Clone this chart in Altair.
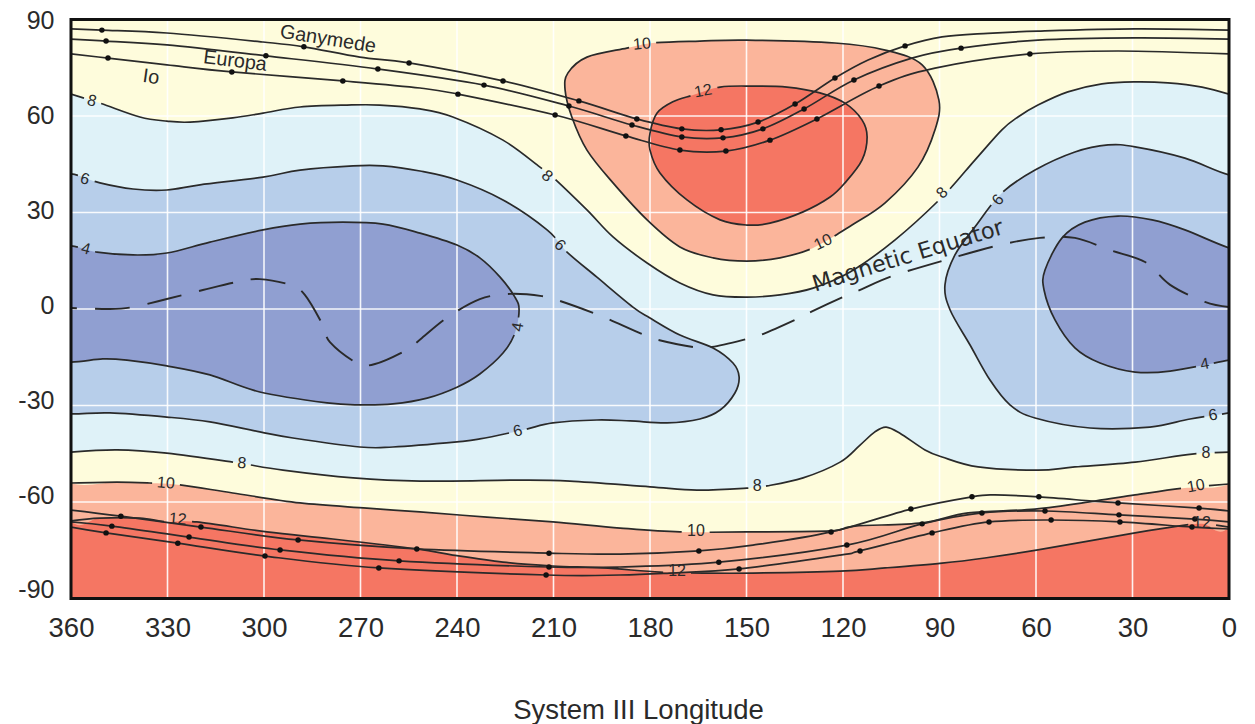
import altair as alt
import pandas as pd
import math

# Colours
YELLOW = "#FEFCDC"
SKY = "#DFF2F8"
BLUE = "#B7CEEA"
DARK = "#909FD1"
SALMON = "#FBB59B"
RED = "#F57663"
INK = "#2a2a2a"

# Contours (longitude, latitude)
t8_lon = [360,351.0,338.6,330.2,323.0,309.7,300.3,288.8,274.2,264.0,251.5,241.3,225.7,214.2,210.2,199.6,191.5,180.9,170.7,160.4,149.9,139.6,129.3,117.8,103.8,89.2,79.0,70.6,65.6,59.4,50.1,39.5,29.2,19.0,8.4,0]
t8_lat = [66.8,64.0,59.7,58.4,58.1,59.4,60.9,62.8,63.4,63.4,62.2,59.7,52.5,44.1,41.0,30.8,22.4,14.3,8.1,4.4,3.7,4.4,6.5,11.5,21.5,34.8,46.3,55.7,59.7,63.4,67.5,70.0,70.6,70.3,69.0,66.8]

s10_lon = [179.1,164.5,149.9,122.5,106.9,95.4,90.2,91.4,96.7,106.9,117.2,129.3,139.6,149.9,160.4,170.7,180.9,191.5,199.6,204.3,206.4,205.5,199.6,187.2]
s10_lat = [82.7,83.3,83.6,82.7,80.5,75.9,65.0,55.7,44.1,33.0,26.1,19.0,15.9,14.9,15.9,19.3,27.7,39.2,49.4,59.7,68.1,73.4,78.3,81.1]

r12_lon = [166.6,158.2,148.0,137.4,127.2,119.4,114.1,112.5,114.1,119.4,124.0,132.4,142.7,149.9,158.2,168.5,176.9,180.0,180.0,177.8,172.9]
r12_lat = [66.5,69.0,69.3,69.0,67.2,64.0,58.8,53.5,46.3,39.2,34.8,30.2,26.7,26.1,27.7,33.9,42.3,49.4,54.7,60.9,64.4]

l6_lon = [360,351.0,340.7,330.2,319.9,300.3,288.8,272.3,263.0,251.5,240.0,225.7,212.0,205.8,196.5,185.3,180.0,170.7,160.4,154.2,152.3,153.6,158.2,164.5,174.7,186.2,196.5,210.2,219.5,232.9,240.0,259.9,270.2,291.0,301.3,316.8,330.2,347.9,360,372,376,372]
l6_lat = [42.0,39.2,37.3,37.0,38.6,41.0,43.2,44.5,44.5,42.9,40.1,33.9,24.6,17.7,9.9,0.6,-2.8,-8.1,-12.1,-16.8,-21.1,-26.1,-31.4,-34.2,-35.4,-34.8,-34.5,-35.4,-37.6,-40.4,-41.3,-42.9,-42.9,-40.1,-38.2,-35.1,-33.6,-32.3,-32.6,-32,5,42]

r6_lon = [0,13.7,29.2,37.6,47.9,60.3,70.6,79.0,85.2,88.3,86.7,80.5,74.3,68.1,60.3,43.2,24.6,12.1,0,-12,-16,-12]
r6_lat = [41.7,46.9,50.4,51.0,48.8,43.2,36.1,25.5,16.8,7.5,-0.3,-11.2,-22.1,-29.8,-33.9,-37.0,-36.7,-34.2,-32.3,-30,5,40]

l4_lon = [360,351.9,340.7,330.2,316.8,300.3,288.8,275.5,263.0,251.5,240.0,232.9,226.6,222.0,220.7,222.0,225.7,232.9,240.0,249.3,259.9,270.2,280.4,301.3,316.8,330.2,342.6,350.1,360,372,376,372]
l4_lat = [19.6,17.7,16.8,17.4,20.8,24.6,26.4,27.0,26.4,23.6,19.9,15.9,9.9,3.7,-0.3,-7.5,-13.7,-20.2,-24.3,-27.7,-29.5,-29.8,-29.2,-25.8,-20.5,-17.7,-15.9,-15.5,-16.5,-16,2,20]

r4_lon = [0,13.7,23.9,34.5,44.8,51.9,57.2,57.5,54.1,47.9,40.1,29.2,18.3,0,-12,-16,-12]
r4_lat = [19.0,24.6,27.7,28.9,27.0,22.1,12.1,5.9,-3.4,-12.1,-16.8,-19.6,-19.3,-15.9,-14,2,16]

b8_lon = [360,345.7,330.2,309.7,294.1,272.3,251.5,220.4,204.9,180.0,165.4,149.9,143.6,132.4,120.9,114.7,110.1,106.6,102.3,94.5,89.2,78.0,59.4,47.9,29.2,11.5,0]
b8_lat = [-44.5,-43.8,-44.8,-47.6,-50.1,-52.5,-53.5,-53.2,-53.5,-55.3,-56.3,-55.7,-55.0,-52.5,-47.6,-42.3,-38.2,-36.7,-38.6,-43.8,-46.0,-49.1,-50.1,-49.1,-47.6,-45.1,-44.5]

b10_lon = [360,345.7,335.5,326.1,309.7,288.8,268.0,251.5,230.7,210.2,189.3,170.7,149.9,124.0,116.3,95.4,81.1,60.3,41.7,29.2,14.6,0]
b10_lat = [-54.1,-53.8,-54.1,-54.7,-57.2,-60.3,-61.9,-63.1,-64.7,-66.2,-68.1,-69.3,-69.3,-69.0,-67.5,-66.5,-63.4,-62.2,-59.7,-57.8,-55.7,-54.4]

b12_lon = [360,351.0,338.6,330.2,320.9,299.1,278.6,252.5,241.3,225.7,210.2,194.6,176.9,163.5,148.0,120.9,106.9,89.2,75.9,59.4,29.2,15.9,8.4,0]
b12_lat = [-65.9,-65.0,-65.0,-66.2,-66.2,-69.3,-71.5,-74.6,-76.5,-78.7,-79.9,-80.5,-81.8,-82.1,-82.1,-81.5,-80.5,-79.0,-77.4,-74.9,-69.6,-67.5,-66.8,-67.8]

# Points beyond the frame that close the polar regions
north_close_lon = [-12,-20,380,372]
north_close_lat = [66,110,110,67]
south_close_lon = [-12,-20,380,372]
south_close_lat = [-44,-110,-110,-45]

# Footprint tracks
gn_lon = [360,350.4,330.2,300.3,287.6,270.2,254.9,225.7,202.1,184.1,170.1,157.9,146.4,134.9,122.5,112.2,100.7,89.2,75.0,59.4,29.2,0]
gn_lat = [87.1,86.7,85.8,83.0,81.5,78.3,76.5,70.9,64.7,59.1,56.0,55.7,58.1,63.7,71.8,77.4,81.8,84.6,85.7,86.4,87.1,86.7]
en_lon = [360,349.1,330.2,299.4,264.6,231.6,205.2,185.6,170.1,157.3,144.9,132.1,116.6,98.6,83.3,59.4,29.2,0]
en_lat = [83.9,83.3,82.1,78.7,74.6,69.6,63.1,57.2,53.5,53.2,56.0,62.2,71.2,78.0,81.1,83.6,84.3,83.9]
in_lon = [360,348.5,330.2,310.0,275.5,251.5,239.7,209.5,187.5,170.7,156.4,142.7,128.1,108.8,91.4,61.9,34.5,0]
in_lat = [79.3,78.0,75.9,73.7,70.9,68.7,66.8,60.3,53.8,49.4,49.1,52.5,59.1,69.3,74.9,79.3,80.2,79.3]
gs_lon = [360,344.5,319.6,289.4,252.5,211.4,189.3,164.8,148.0,123.7,98.9,79.9,72.8,59.1,42.6,34.5,9.3,0]
gs_lat = [-62.5,-64.4,-67.8,-71.8,-74.6,-75.9,-76.2,-75.2,-73.4,-69.3,-62.2,-58.4,-57.8,-58.4,-59.7,-60.3,-61.9,-62.8]
es_lon = [360,347.3,323.3,295.0,258.0,211.4,189.3,158.6,118.8,95.4,76.8,57.2,34.2,10.6,0]
es_lat = [-66.2,-67.5,-70.9,-74.9,-78.3,-80.2,-80.2,-78.7,-73.4,-66.8,-63.4,-62.8,-64.0,-65.3,-66.2]
is_lon = [360,349.1,326.8,299.7,264.3,212.3,189.3,173.8,152.3,120.9,114.7,92.3,74.6,55.3,33.9,11.5,0]
is_lat = [-67.8,-69.6,-72.8,-76.8,-80.5,-82.7,-82.7,-82.1,-80.8,-76.5,-75.2,-69.6,-66.2,-65.6,-66.2,-67.8,-68.4]

dot_lon = [350.4,287.6,254.9,225.7,202.1,184.1,170.1,157.9,146.4,134.9,122.5,100.7,
           349.1,299.4,264.6,231.6,205.2,185.6,170.1,157.3,144.9,132.1,116.6,83.3,
           348.5,310.0,275.5,239.7,209.5,187.5,170.7,156.4,142.7,128.1,108.8,61.9,
           344.5,319.6,289.4,252.5,211.4,164.8,123.7,98.9,79.9,59.1,34.5,9.3,
           347.3,323.3,295.0,258.0,211.4,158.6,118.8,95.4,76.8,57.2,34.2,10.6,
           349.1,326.8,299.7,264.3,212.3,152.3,114.7,92.3,74.6,55.3,33.9,11.5]
dot_lat = [86.7,81.5,76.5,70.9,64.7,59.1,56.0,55.7,58.1,63.7,71.8,81.8,
           83.3,78.7,74.6,69.6,63.1,57.2,53.5,53.2,56.0,62.2,71.2,81.1,
           78.0,73.7,70.9,66.8,60.3,53.8,49.4,49.1,52.5,59.1,69.3,79.3,
           -64.4,-67.8,-71.8,-74.6,-75.9,-75.2,-69.3,-62.2,-58.4,-58.4,-60.3,-61.9,
           -67.5,-70.9,-74.9,-78.3,-80.2,-78.7,-73.4,-66.8,-63.4,-62.8,-64.0,-65.3,
           -69.6,-72.8,-76.8,-80.5,-82.7,-80.8,-75.2,-69.6,-66.2,-65.6,-66.2,-67.8]

# Magnetic equator
me_lon = [360,347.9,340.7,330.2,319.0,308.4,301.3,291.9,287.3,281.7,279.5,271.1,265.5,255.6,250.9,242.8,232.9,223.5,213.6,208.0,197.7,192.4,182.5,177.5,166.6,160.7,149.9,144.9,134.3,129.3,120.0,114.1,104.5,88.3,71.2,58.8,47.9,37.0,26.1,18.3,7.5,0]
me_lat = [0.3,0,0.6,3.1,5.9,8.4,9.3,7.5,4.4,-5.0,-10.3,-16.8,-17.1,-12.7,-9.0,-2.5,3.1,4.7,4.0,2.5,-1.2,-3.4,-7.8,-9.6,-11.8,-11.8,-9.3,-7.8,-3.1,-0.6,3.7,6.2,10.3,15.2,19.9,22.1,22.1,18.3,14.6,7.5,2.2,0.6]

# Contour number labels
lab_text = ["8","6","4","8","6","4","10","12","10","8","6","6","8","10","12","8","10","12","8","10","12","4","6"]
lab_lon = [353.5,355.7,355.4,212.0,208.0,221.1,182.5,163.5,126.2,89.2,71.8,221.1,306.9,330.5,326.8,146.7,165.7,171.6,7.2,10.3,8.4,7.5,5.0]
lab_lat = [64.7,40.4,18.7,41.3,19.9,-5.6,82.4,67.8,20.8,36.1,33.9,-37.9,-47.9,-54.1,-65.3,-55.0,-69.0,-81.5,-44.8,-55.0,-66.5,-17.1,-33.0]
lab_angle = [15,15,15,40,45,280,355,350,335,315,310,345,5,5,5,0,0,0,0,350,0,350,350]

name_text = ["Ganymede","Europa","Io"]
name_lon = [280.1,309.0,335.1]
name_lat = [83.9,77.1,72.1]
name_angle = [9,7,8]

x_ticks = [360,330,300,270,240,210,180,150,120,90,60,30,0]
y_ticks = [90,60,30,0,-30,-60,-90]
x_grid = [330,300,270,240,210,180,150,120,90,60,30]
y_grid = [60,30,0,-30,-60]
X_DOM = [360,0]
Y_DOM = [-90,90]

PLOT_W = 1158
PLOT_H = 579

xs = alt.Scale(domain=X_DOM, nice=False, zero=False)
ys = alt.Scale(domain=Y_DOM, nice=False, zero=False)
x_axis = alt.Axis(values=x_ticks, title="System III Longitude", grid=False, domain=False, ticks=False,
                  labelFontSize=27.5, labelFont="Liberation Sans", labelColor="#2a2a2a", labelPadding=16,
                  labelOverlap=False, labelFlush=False, format="d", titleFont="Liberation Sans", titleFontSize=27.5,
                  titleFontWeight="normal", titleColor="#2a2a2a", titlePadding=54, titleX=567)
X = alt.X("lon:Q", scale=xs, axis=x_axis)
Y = alt.Y("lat:Q", scale=ys, axis=None)


def path(lons, lats):
    return pd.DataFrame({"lon": lons, "lat": lats, "i": range(len(lons))})


def to_px(lons, lats):
    return [((360 - a) * PLOT_W / 360, (90 - b) * PLOT_H / 180) for a, b in zip(lons, lats)]


def spline_samples(pts, closed):
    """Walk the same cubic Vega draws, so that gaps in the stroke fall under the labels."""
    n = len(pts)
    out = []
    if closed:
        segs = [(pts[(k - 1) % n], pts[k % n], pts[(k + 1) % n], pts[(k + 2) % n]) for k in range(1, n + 1)]
    else:
        segs = [(pts[max(k - 1, 0)], pts[k], pts[k + 1], pts[min(k + 2, n - 1)]) for k in range(n - 1)]
    for p0, p1, p2, p3 in segs:
        c1 = (p1[0] + (p2[0] - p0[0]) / 6, p1[1] + (p2[1] - p0[1]) / 6)
        c2 = (p2[0] - (p3[0] - p1[0]) / 6, p2[1] - (p3[1] - p1[1]) / 6)
        for j in range(24):
            t = j / 24
            u = 1 - t
            out.append((u**3 * p1[0] + 3 * u * u * t * c1[0] + 3 * u * t * t * c2[0] + t**3 * p2[0],
                        u**3 * p1[1] + 3 * u * u * t * c1[1] + 3 * u * t * t * c2[1] + t**3 * p2[1]))
    if not closed:
        out.append(pts[-1])
    else:
        out.append(segs[-1][2])
    return out


def dash_for(lons, lats, label_ids, closed):
    if not label_ids:
        return None
    samples = spline_samples(to_px(lons, lats), closed)
    arc = [0.0]
    for a, b in zip(samples, samples[1:]):
        arc.append(arc[-1] + math.dist(a, b))
    stops = []
    for k in label_ids:
        c = to_px([lab_lon[k]], [lab_lat[k]])[0]
        m = min(range(len(samples)), key=lambda q: math.dist(samples[q], c))
        half = 14 if len(lab_text[k]) == 2 else 9
        stops.append((arc[m] - half, arc[m] + half))
    stops.sort()
    dash = []
    pos = 0.0
    for s, e in stops:
        dash += [max(s - pos, 0.1), e - s]
        pos = e
    dash += [arc[-1] + 50, 5000]
    return [round(v, 1) for v in dash]


def blob(lons, lats, fill):
    return alt.Chart(path(lons, lats)).mark_line(
        fill=fill, filled=True, stroke=fill, strokeWidth=0, interpolate="cardinal-closed", tension=0, clip=True
    ).encode(x=X, y=Y, order="i:Q")


def blob_line(lons, lats, label_ids=()):
    kw = {}
    d = dash_for(lons, lats, list(label_ids), True)
    if d:
        kw["strokeDash"] = d
    return alt.Chart(path(lons, lats)).mark_line(
        color=INK, strokeWidth=1.7, interpolate="cardinal-closed", tension=0, clip=True, **kw
    ).encode(x=X, y=Y, order="i:Q")


def curve(lons, lats, label_ids=(), width=1.7, **kw):
    d = dash_for(lons, lats, list(label_ids), False)
    if d:
        kw["strokeDash"] = d
    return alt.Chart(path(lons, lats)).mark_line(
        color=INK, strokeWidth=width, interpolate="cardinal", tension=0, clip=True, **kw
    ).encode(x=X, y=Y, order="i:Q")


layers = [
    alt.Chart(pd.DataFrame({"lon": [X_DOM[0]], "lon2": [X_DOM[1]], "lat": [Y_DOM[0]], "lat2": [Y_DOM[1]]}))
    .mark_rect(color=SKY)
    .encode(x=X, x2="lon2:Q", y=Y, y2="lat2:Q"),
    blob(t8_lon + north_close_lon, t8_lat + north_close_lat, YELLOW),
    blob(b8_lon + south_close_lon, b8_lat + south_close_lat, YELLOW),
    blob(b10_lon + south_close_lon, b10_lat + south_close_lat, SALMON),
    blob(b12_lon + south_close_lon, b12_lat + south_close_lat, RED),
    blob(s10_lon, s10_lat, SALMON),
    blob(r12_lon, r12_lat, RED),
    blob(l6_lon, l6_lat, BLUE),
    blob(r6_lon, r6_lat, BLUE),
    blob(l4_lon, l4_lat, DARK),
    blob(r4_lon, r4_lat, DARK),
    alt.Chart(pd.DataFrame({"lon": x_grid})).mark_rule(color="white", strokeWidth=1.6, opacity=0.9).encode(x=X),
    alt.Chart(pd.DataFrame({"lat": y_grid})).mark_rule(color="white", strokeWidth=1.6, opacity=0.9).encode(y=Y),
    curve(t8_lon, t8_lat, (0, 3, 9)),
    curve(b8_lon, b8_lat, (12, 15, 18)),
    curve(b10_lon, b10_lat, (13, 16, 19)),
    curve(b12_lon, b12_lat, (14, 17, 20)),
    blob_line(s10_lon, s10_lat, (6, 8)),
    blob_line(r12_lon, r12_lat, (7,)),
    blob_line(l6_lon, l6_lat, (1, 4, 11)),
    blob_line(r6_lon, r6_lat, (10, 22)),
    blob_line(l4_lon, l4_lat, (2, 5)),
    blob_line(r4_lon, r4_lat, (21,)),
    curve(gn_lon, gn_lat),
    curve(en_lon, en_lat),
    curve(in_lon, in_lat),
    curve(gs_lon, gs_lat),
    curve(es_lon, es_lat),
    curve(is_lon, is_lat),
    curve(me_lon, me_lat, width=1.9, strokeDash=[35, 18], strokeDashOffset=29),
    alt.Chart(pd.DataFrame({"lon": dot_lon, "lat": dot_lat})).mark_circle(color="#111111", size=30, opacity=1, clip=True).encode(x=X, y=Y),
]

labels = pd.DataFrame({"lon": lab_lon, "lat": lab_lat, "t": lab_text, "a": lab_angle})
layers.append(
    alt.Chart(labels).mark_text(fontSize=16, font="Liberation Sans", color=INK, baseline="middle").encode(
        x=X, y=Y, text="t:N", angle=alt.Angle("a:Q", scale=None)
    )
)
names = pd.DataFrame({"lon": name_lon, "lat": name_lat, "t": name_text, "a": name_angle})
layers.append(
    alt.Chart(names).mark_text(fontSize=19.8, font="Liberation Sans", color=INK, baseline="middle").encode(
        x=X, y=Y, text="t:N", angle=alt.Angle("a:Q", scale=None)
    )
)
layers.append(
    alt.Chart(pd.DataFrame({"lon": [99.8], "lat": [16.5], "t": ["Magnetic Equator"], "a": [343]}))
    .mark_text(fontSize=22.5, font="DejaVu Sans", color=INK, baseline="middle")
    .encode(x=X, y=Y, text="t:N", angle=alt.Angle("a:Q", scale=None))
)
layers.append(
    alt.Chart(pd.DataFrame({"lon": [X_DOM[0]], "lon2": [X_DOM[1]], "lat": [Y_DOM[0]], "lat2": [Y_DOM[1]]}))
    .mark_rect(fill=None, stroke="#111111", strokeWidth=3)
    .encode(x=X, x2="lon2:Q", y=Y, y2="lat2:Q")
)

main = alt.layer(*layers)

tick_axis = alt.Chart(pd.DataFrame({"lat": y_ticks})).mark_point(opacity=0).encode(
    x=alt.value(0),
    y=alt.Y("lat:Q", scale=alt.Scale(domain=[-92.7, 90.3], nice=False, zero=False),
            axis=alt.Axis(orient="left", values=y_ticks, title=None, grid=False, domain=False, ticks=False,
                          labelFontSize=25, labelFont="Liberation Sans", labelColor="#2a2a2a", labelPadding=17,
                          labelOverlap=False, labelFlush=False, labelExpr="toString(datum.value)")),
)

chart = (
    alt.layer(main, tick_axis)
    .resolve_scale(y="independent")
    .properties(width=PLOT_W, height=PLOT_H, padding={"left": 63, "top": 11.5, "right": 18, "bottom": 125},
                autosize=alt.AutoSizeParams(type="none"), background="white")
    .configure_view(stroke=None)
)
chart.save("out.html", embed_options={"renderer": "svg", "actions": False})
